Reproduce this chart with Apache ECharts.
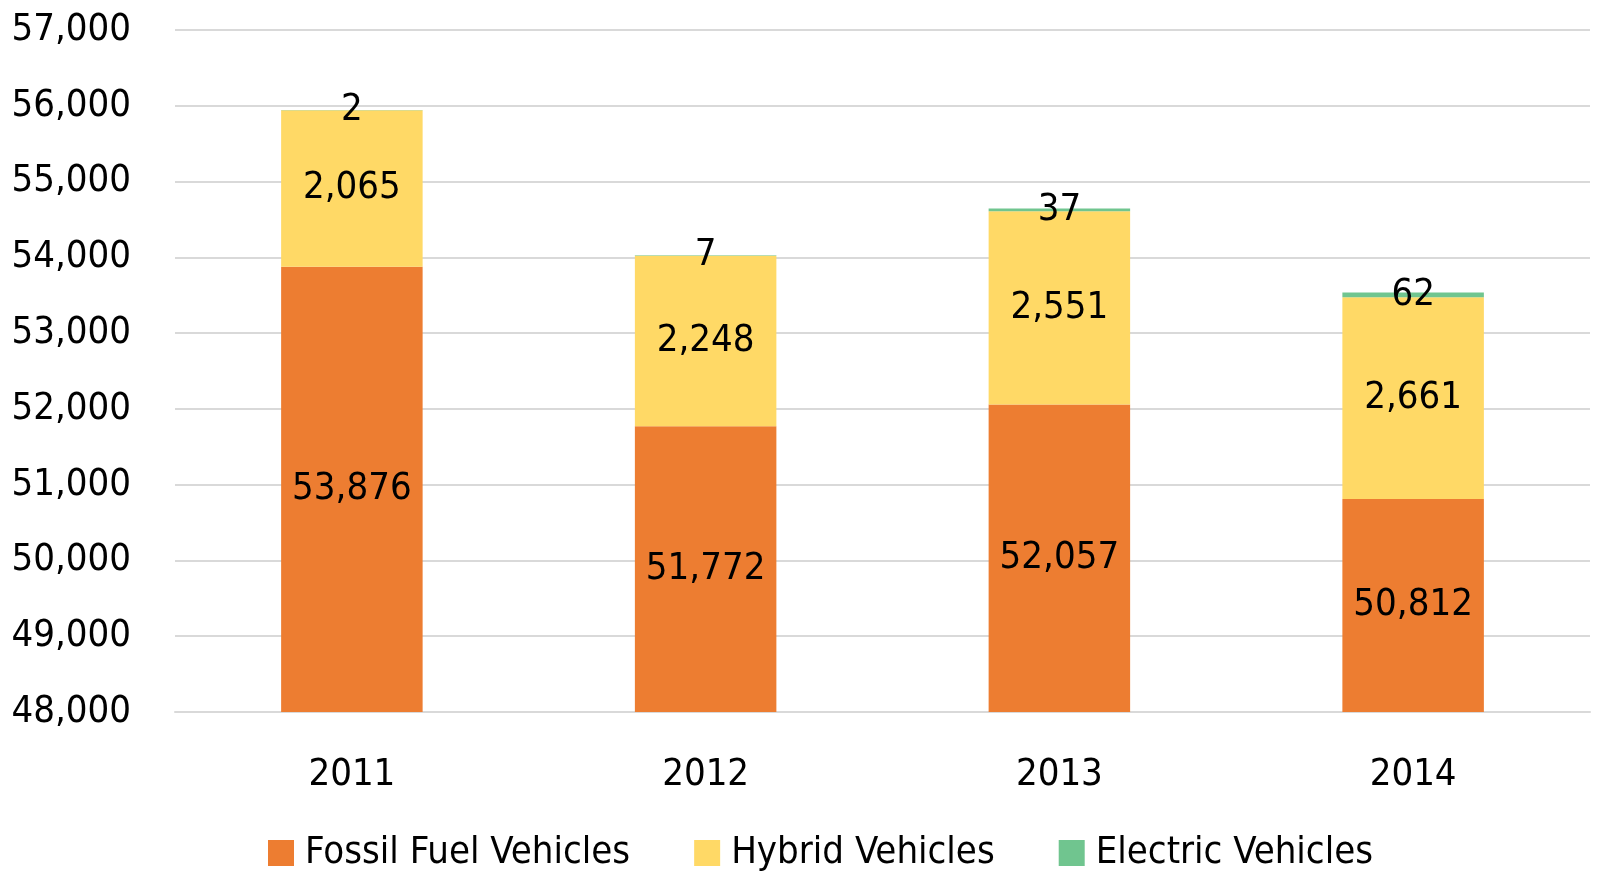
<!DOCTYPE html>
<html>
<head>
<meta charset="utf-8">
<script src="https://cdn.jsdelivr.net/npm/echarts@6/dist/echarts.min.js"></script>
<style>
  html, body { margin: 0; padding: 0; background: #fff; }
  #main { width: 1607px; height: 876px; }
</style>
</head>
<body>
<div id="main"></div>
<script>
var years = ['2011', '2012', '2013', '2014'];
var fossil = [53876, 51772, 52057, 50812];
var hybrid = [2065, 2248, 2551, 2661];
var electric = [2, 7, 37, 62];

var font = '"Liberation Sans Narrow", "DejaVu Sans Condensed", sans-serif';
var fs = 38;

function fmt(p) {
    return p.value.toLocaleString('en-US');
}

function barSeries(name, data, color) {
    return {
        name: name,
        type: 'bar',
        stack: 'total',
        data: data,
        barWidth: '40%',
        itemStyle: { color: color },
        label: {
            show: true,
            position: 'inside',
            color: '#000',
            fontFamily: font,
            fontSize: fs,
            formatter: fmt
        }
    };
}

var chart = echarts.init(document.getElementById('main'));
var opt = {
    animation: false,
    textStyle: { fontFamily: font },
    grid: { left: 175, right: 17, top: 30, bottom: 164, outerBoundsMode: 'none', containLabel: false },
    legend: {
        left: 263,
        top: 829,
        itemWidth: 26,
        itemHeight: 26,
        itemGap: 64,
        icon: 'rect',
        textStyle: { color: '#000', fontSize: fs, fontFamily: font, padding: [0, 0, 0, 6] },
        data: ['Fossil Fuel Vehicles', 'Hybrid Vehicles', 'Electric Vehicles']
    },
    xAxis: {
        type: 'category',
        data: years,
        axisLine: { lineStyle: { color: '#d9d9d9', width: 2 } },
        axisTick: { show: false },
        axisLabel: { color: '#000', fontSize: fs, fontFamily: font, margin: 44 }
    },
    yAxis: {
        type: 'value',
        min: 48000,
        max: 57000,
        interval: 1000,
        axisLine: { show: false },
        axisTick: { show: false },
        splitLine: { lineStyle: { color: '#d9d9d9', width: 2 } },
        axisLabel: {
            color: '#000', fontSize: fs, fontFamily: font, margin: 44,
            formatter: function (v) { return v.toLocaleString('en-US'); }
        }
    },
    series: [
        barSeries('Fossil Fuel Vehicles', fossil, '#ED7D31'),
        barSeries('Hybrid Vehicles', hybrid, '#FFD966'),
        barSeries('Electric Vehicles', electric, '#70C58F')
    ]
};
chart.setOption(opt);
</script>
</body>
</html>
